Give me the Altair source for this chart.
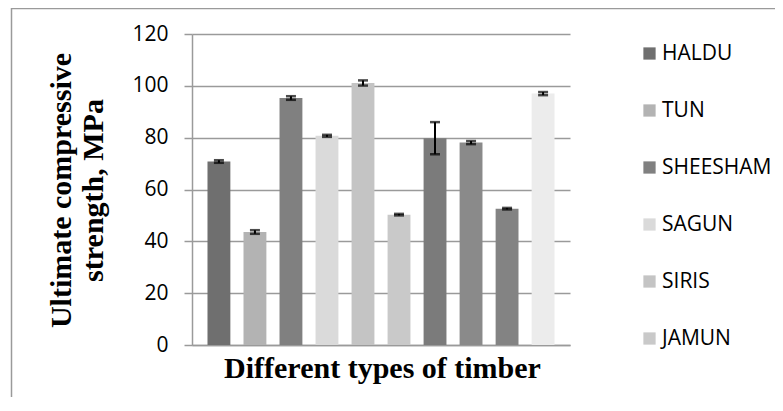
import altair as alt
import pandas as pd

# ---- data ----
timbers = ["HALDU", "TUN", "SHEESHAM", "SAGUN", "SIRIS", "JAMUN",
           "TIMBER 7", "TIMBER 8", "TIMBER 9", "TIMBER 10"]
strength = [70.8, 43.6, 95.3, 80.7, 101.1, 50.3, 79.8, 78.1, 52.6, 97.0]
error = [0.5, 0.7, 0.7, 0.4, 1.0, 0.3, 6.2, 0.6, 0.3, 0.6]
shades = ["#6f6f6f", "#b3b3b3", "#808080", "#dadada", "#c4c4c4",
          "#c9c9c9", "#7b7b7b", "#8a8a8a", "#838383", "#ececec"]
legend_shown = timbers[:6]
y_ticks = [0, 20, 40, 60, 80, 100, 120]
y_title = ["Ultimate compressive", "strength, MPa"]
x_title = "Different types of timber"

df = pd.DataFrame({"timber": timbers, "strength": strength, "err": error})
df["lo"] = df["strength"] - df["err"]
df["hi"] = df["strength"] + df["err"]

GRAY = "#9a9a9a"
SANS = "Open Sans"
SERIF = "Liberation Serif"

x_enc = alt.X(
    "timber:N", sort=timbers,
    scale=alt.Scale(paddingInner=0.365, paddingOuter=0.43),
    axis=alt.Axis(title=x_title, labels=False, ticks=False,
                  domainColor=GRAY, domainWidth=1.5,
                  titleFont=SERIF, titleFontWeight="bold", titleFontSize=30,
                  titleColor="black", titleX=190, titleY=32,
                  titleBaseline="alphabetic", titleAlign="center"),
)

y_scale = alt.Scale(domain=[0, 120])

base = alt.Chart(df)

bars = base.mark_bar().encode(
    x=x_enc,
    y=alt.Y("strength:Q", scale=y_scale,
            axis=alt.Axis(values=y_ticks, title=y_title, grid=True,
                          gridColor=GRAY, gridWidth=1.5,
                          tickSize=8, tickColor=GRAY, tickWidth=1.5,
                          domainColor=GRAY, domainWidth=1.5,
                          labelFont=SANS, labelFontSize=21, labelColor="black",
                          labelPadding=16,
                          titleFont=SERIF, titleFontWeight="bold",
                          titleFontSize=30, titleColor="black",
                          titleAngle=-90, titleX=-131, titleY=156,
                          titleBaseline="middle", titleAlign="center",
                          titleLineHeight=32)),
    color=alt.Color("timber:N", sort=timbers,
                    scale=alt.Scale(domain=timbers, range=shades),
                    legend=alt.Legend(values=legend_shown, title=None,
                                      orient="none", legendX=447, legendY=9,
                                      symbolType="square", symbolSize=150,
                                      symbolStrokeWidth=0,
                                      labelFont=SANS, labelFontSize=21,
                                      labelColor="black", labelOffset=2,
                                      rowPadding=35, padding=0)),
)

err_rule = base.mark_rule(color="black", strokeWidth=2).encode(
    x=alt.X("timber:N", sort=timbers),
    y=alt.Y("lo:Q", scale=y_scale),
    y2="hi:Q",
)
cap_hi = base.mark_tick(color="black", orient="horizontal", size=10,
                        thickness=2.5).encode(
    x=alt.X("timber:N", sort=timbers), y=alt.Y("hi:Q", scale=y_scale))
cap_lo = base.mark_tick(color="black", orient="horizontal", size=10,
                        thickness=2.5).encode(
    x=alt.X("timber:N", sort=timbers), y=alt.Y("lo:Q", scale=y_scale))

frame = alt.Chart(pd.DataFrame({"k": [0]})).mark_rect(
    filled=False, stroke=GRAY, strokeWidth=1.5
).encode(x=alt.value(-180.5), x2=alt.value(620),
         y=alt.value(-25.5), y2=alt.value(420))

chart = alt.layer(frame, bars, err_rule, cap_hi, cap_lo).properties(
    width=378, height=311,
    autosize=alt.AutoSizeParams(type="none"),
    padding={"left": 184, "top": 26, "right": 205, "bottom": 52},
).configure_view(strokeWidth=0)

chart.save("out.html", embed_options={"renderer": "svg", "actions": False})
